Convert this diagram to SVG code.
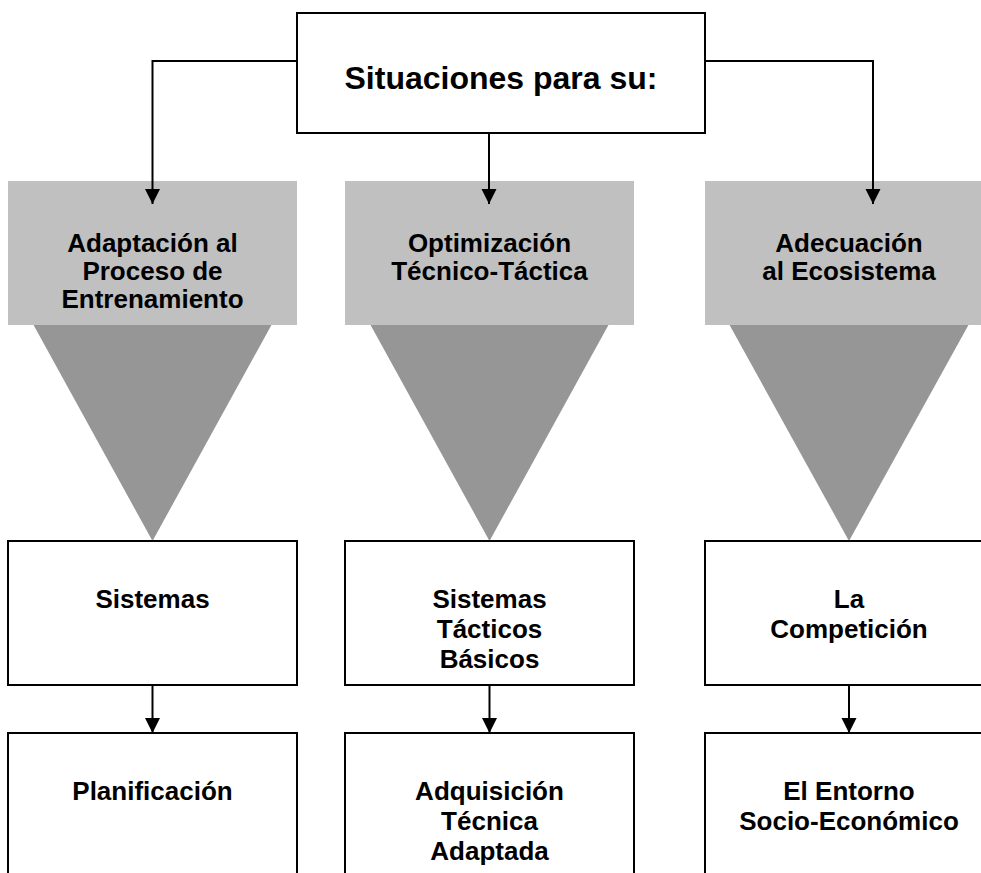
<svg xmlns="http://www.w3.org/2000/svg" width="981" height="873" viewBox="0 0 981 873">
<defs>
<style>
.box{fill:#ffffff;stroke:#000000;stroke-width:2}
.band{fill:#c0c0c0}
.funnel{fill:#969696}
.t{font-family:"Liberation Sans",Arial,sans-serif;font-weight:bold;font-size:26px;fill:#000000;text-anchor:middle}
.title{font-size:32px}
.conn{fill:none;stroke:#000000;stroke-width:2}
</style>
<marker id="arr" markerUnits="userSpaceOnUse" markerWidth="16" markerHeight="16" refX="15" refY="7.5" orient="auto">
<path d="M0,0 L15,7.5 L0,15 Z" fill="#000000"/>
</marker>
</defs>
<rect width="981" height="873" fill="#ffffff"/>

<g id="col1-band">
<polygon class="funnel" points="33,324 272,324 152.5,541"/>
<rect class="band" x="8" y="181" width="289" height="144"/>
<text class="t" x="152.5" y="252">Adaptación al</text>
<text class="t" x="152.5" y="280">Proceso de</text>
<text class="t" x="152.5" y="308">Entrenamiento</text>
</g>
<g id="col2-band">
<polygon class="funnel" points="370,324 609,324 489.5,541"/>
<rect class="band" x="345" y="181" width="289" height="144"/>
<text class="t" x="489.5" y="252">Optimización</text>
<text class="t" x="489.5" y="280">Técnico-Táctica</text>
</g>
<g id="col3-band">
<polygon class="funnel" points="729,324 969,324 849,541"/>
<rect class="band" x="705" y="181" width="289" height="144"/>
<text class="t" x="849" y="252">Adecuación</text>
<text class="t" x="849" y="280">al Ecosistema</text>
</g>

<g id="top">
<rect class="box" x="297" y="13" width="408" height="120"/>
<text class="t title" x="501" y="89">Situaciones para su:</text>
</g>

<g id="sistemas">
<rect class="box" x="8" y="541" width="289" height="144"/>
<text class="t" x="152.5" y="608">Sistemas</text>
</g>
<g id="sistemas-tacticos">
<rect class="box" x="345" y="541" width="289" height="144"/>
<text class="t" x="489.5" y="608">Sistemas</text>
<text class="t" x="489.5" y="638">Tácticos</text>
<text class="t" x="489.5" y="668">Básicos</text>
</g>
<g id="competicion">
<rect class="box" x="705" y="541" width="289" height="144"/>
<text class="t" x="849" y="608">La</text>
<text class="t" x="849" y="638">Competición</text>
</g>

<g id="planificacion">
<rect class="box" x="8" y="733" width="289" height="170"/>
<text class="t" x="152.5" y="800">Planificación</text>
</g>
<g id="adquisicion">
<rect class="box" x="345" y="733" width="289" height="170"/>
<text class="t" x="489.5" y="800">Adquisición</text>
<text class="t" x="489.5" y="830">Técnica</text>
<text class="t" x="489.5" y="860">Adaptada</text>
</g>
<g id="entorno">
<rect class="box" x="705" y="733" width="289" height="170"/>
<text class="t" x="849" y="800">El Entorno</text>
<text class="t" x="849" y="830">Socio-Económico</text>
</g>

<g id="connectors">
<polyline class="conn" points="297,61 152.5,61 152.5,204" marker-end="url(#arr)"/>
<line class="conn" x1="489" y1="133" x2="489" y2="204" marker-end="url(#arr)"/>
<polyline class="conn" points="705,61 873,61 873,204" marker-end="url(#arr)"/>
<line class="conn" x1="152.5" y1="685" x2="152.5" y2="733" marker-end="url(#arr)"/>
<line class="conn" x1="489.5" y1="685" x2="489.5" y2="733" marker-end="url(#arr)"/>
<line class="conn" x1="849" y1="685" x2="849" y2="733" marker-end="url(#arr)"/>
</g>
</svg>
